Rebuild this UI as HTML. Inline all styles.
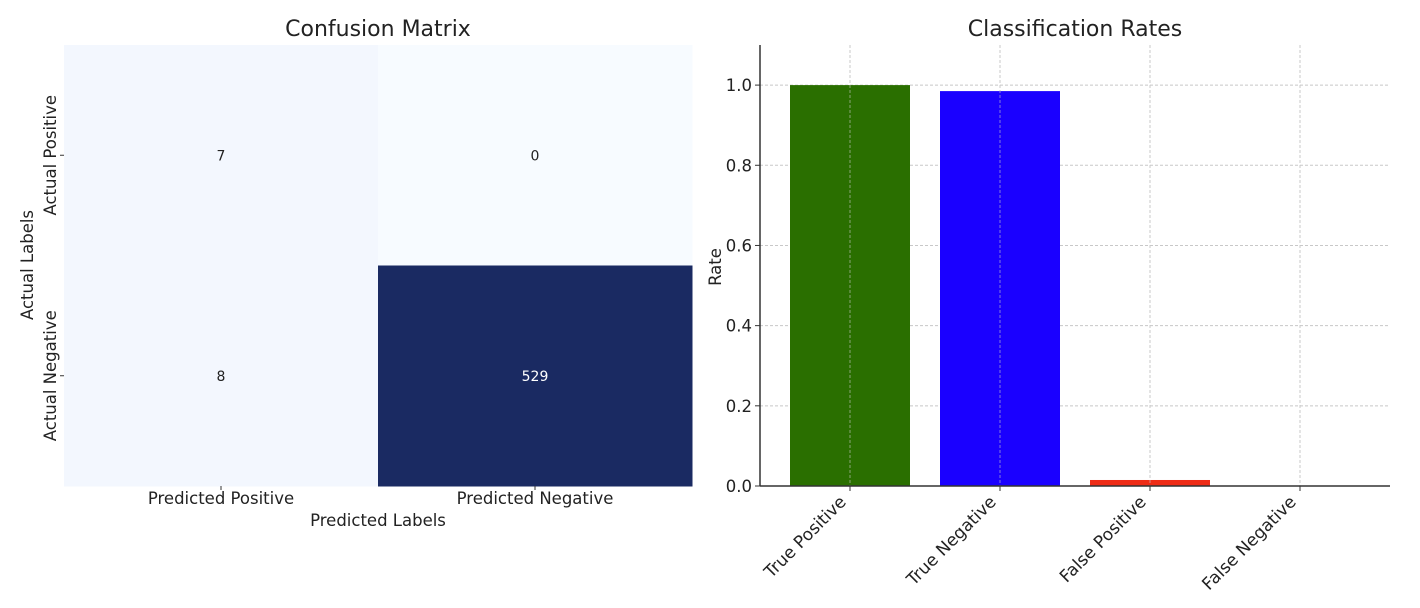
<!DOCTYPE html>
<html><head><meta charset="utf-8">
<style>
html,body{margin:0;padding:0;background:#fff;}
svg{display:block;font-family:"DejaVu Sans","Liberation Sans",sans-serif;}
</style></head>
<body>
<svg id="chart" width="1420" height="608" viewBox="0 0 1420 608" xmlns="http://www.w3.org/2000/svg">
<g id="cm"></g>
<g id="bars"></g>
</svg>
<script>
const cmRows = ["Actual Positive","Actual Negative"];
const cmCols = ["Predicted Positive","Predicted Negative"];
const cmValues = [[7,0],[8,529]];
const rateCats = ["True Positive","True Negative","False Positive","False Negative"];
const rateValues = [1.0,0.985,0.015,0.0];
const rateColors = ["#2a6f00","#1a00ff","#ee2c16","#888888"];
const rateTicks = [0,0.2,0.4,0.6,0.8,1.0];
const rateTickLabels = ["0.0","0.2","0.4","0.6","0.8","1.0"];

const NS="http://www.w3.org/2000/svg";
function mk(parent,tag,attrs,text){const e=document.createElementNS(NS,tag);for(const k in attrs)e.setAttribute(k,attrs[k]);if(text!==undefined)e.textContent=text;parent.appendChild(e);return e;}

const cm=document.getElementById('cm');
const L=64,R=692,T=45,B=486;
const cw=(R-L)/cmCols.length, ch=(B-T)/cmRows.length;
const maxV=Math.max(...cmValues.flat()), minV=Math.min(...cmValues.flat());
function blues(v){const t=(v-minV)/(maxV-minV||1);
  const c0=[247,251,255],c1=[26,42,98];
  return `rgb(${Math.round(c0[0]+(c1[0]-c0[0])*t)},${Math.round(c0[1]+(c1[1]-c0[1])*t)},${Math.round(c0[2]+(c1[2]-c0[2])*t)})`;}
function cellFill(v){ if(v===0) return "#f7fbff"; const t=(v-minV)/(maxV-minV); if(t<0.05) return "#f3f7fe"; return blues(v);}
cmValues.forEach((row,i)=>row.forEach((v,j)=>{
  const r=mk(cm,'rect',{x:L+j*cw,y:T+i*ch,width:cw+0.5,height:ch+0.5,fill:cellFill(v)});
  
  
  const t=mk(cm,'text',{x:L+j*cw+cw/2,y:T+i*ch+ch/2+5,'text-anchor':'middle','font-size':14,fill:(v/maxV>0.5)?'#fff':'#222'},String(v));
  
  
}));
cmRows.forEach((lab,i)=>{
  const y=T+i*ch+ch/2;
  mk(cm,'line',{x1:L-4,x2:L,y1:y,y2:y,stroke:'#333','stroke-width':1});
  const t=mk(cm,'text',{transform:`translate(${L-8},${y}) rotate(-90)`,'text-anchor':'middle','font-size':16.5,fill:'#222'},lab);
  
  
});
cmCols.forEach((lab,j)=>{
  const x=L+j*cw+cw/2;
  mk(cm,'line',{x1:x,x2:x,y1:B,y2:B+4,stroke:'#333','stroke-width':1});
  const t=mk(cm,'text',{x:x,y:B+18,'text-anchor':'middle','font-size':16.5,fill:'#222'},lab);
  
  
});
let e;
e=mk(cm,'text',{x:378,y:526,'text-anchor':'middle','font-size':16.5,fill:'#222'},'Predicted Labels');

e=mk(cm,'text',{transform:'translate(33,265) rotate(-90)','text-anchor':'middle','font-size':16.5,fill:'#222'},'Actual Labels');

e=mk(cm,'text',{x:378,y:36,'text-anchor':'middle','font-size':22,fill:'#222'},'Confusion Matrix');


const bg=document.getElementById('bars');
const X0=760,X1=1390,Y0=486,Y1=45,ymax=1.1;
const ys=v=>Y0-(v/ymax)*(Y0-Y1);
const xs=i=>850+i*150;
const bw=120;
rateTicks.forEach((v,k)=>{
  mk(bg,'line',{x1:X0,x2:X1,y1:ys(v),y2:ys(v),stroke:'#c8c8c8','stroke-width':1,'stroke-dasharray':'3,2'});
});
rateCats.forEach((c,i)=>{
  mk(bg,'line',{x1:xs(i),x2:xs(i),y1:Y1,y2:Y0,stroke:'#c8c8c8','stroke-width':1,'stroke-dasharray':'3,2'});
});
rateValues.forEach((v,i)=>{
  const r=mk(bg,'rect',{x:xs(i)-bw/2,y:ys(v),width:bw,height:Y0-ys(v),fill:rateColors[i]});
  
  
});
rateCats.forEach((c,i)=>{
  mk(bg,'line',{x1:xs(i),x2:xs(i),y1:Y1,y2:Y0,stroke:'#c8c8c8','stroke-width':1,'stroke-dasharray':'3,2','opacity':0.6});
});
mk(bg,'line',{x1:X0,x2:X0,y1:Y1,y2:Y0,stroke:'#333','stroke-width':1.5});
mk(bg,'line',{x1:X0,x2:X1,y1:Y0,y2:Y0,stroke:'#333','stroke-width':1.5});
rateTicks.forEach((v,k)=>{
  mk(bg,'line',{x1:X0-5,x2:X0,y1:ys(v),y2:ys(v),stroke:'#333','stroke-width':1});
  const t=mk(bg,'text',{x:X0-8,y:ys(v)+6,'text-anchor':'end','font-size':16.5,fill:'#222'},rateTickLabels[k]);
  
  
});
rateCats.forEach((c,i)=>{
  mk(bg,'line',{x1:xs(i),x2:xs(i),y1:Y0,y2:Y0+5,stroke:'#333','stroke-width':1});
  const t=mk(bg,'text',{transform:`translate(${xs(i)-3},${Y0+17}) rotate(-45)`,'text-anchor':'end','font-size':17,fill:'#222'},c);
  
  
});
e=mk(bg,'text',{transform:'translate(721,267) rotate(-90)','text-anchor':'middle','font-size':16.5,fill:'#222'},'Rate');

e=mk(bg,'text',{x:1075,y:36,'text-anchor':'middle','font-size':22,fill:'#222'},'Classification Rates');

</script>
</body></html>
